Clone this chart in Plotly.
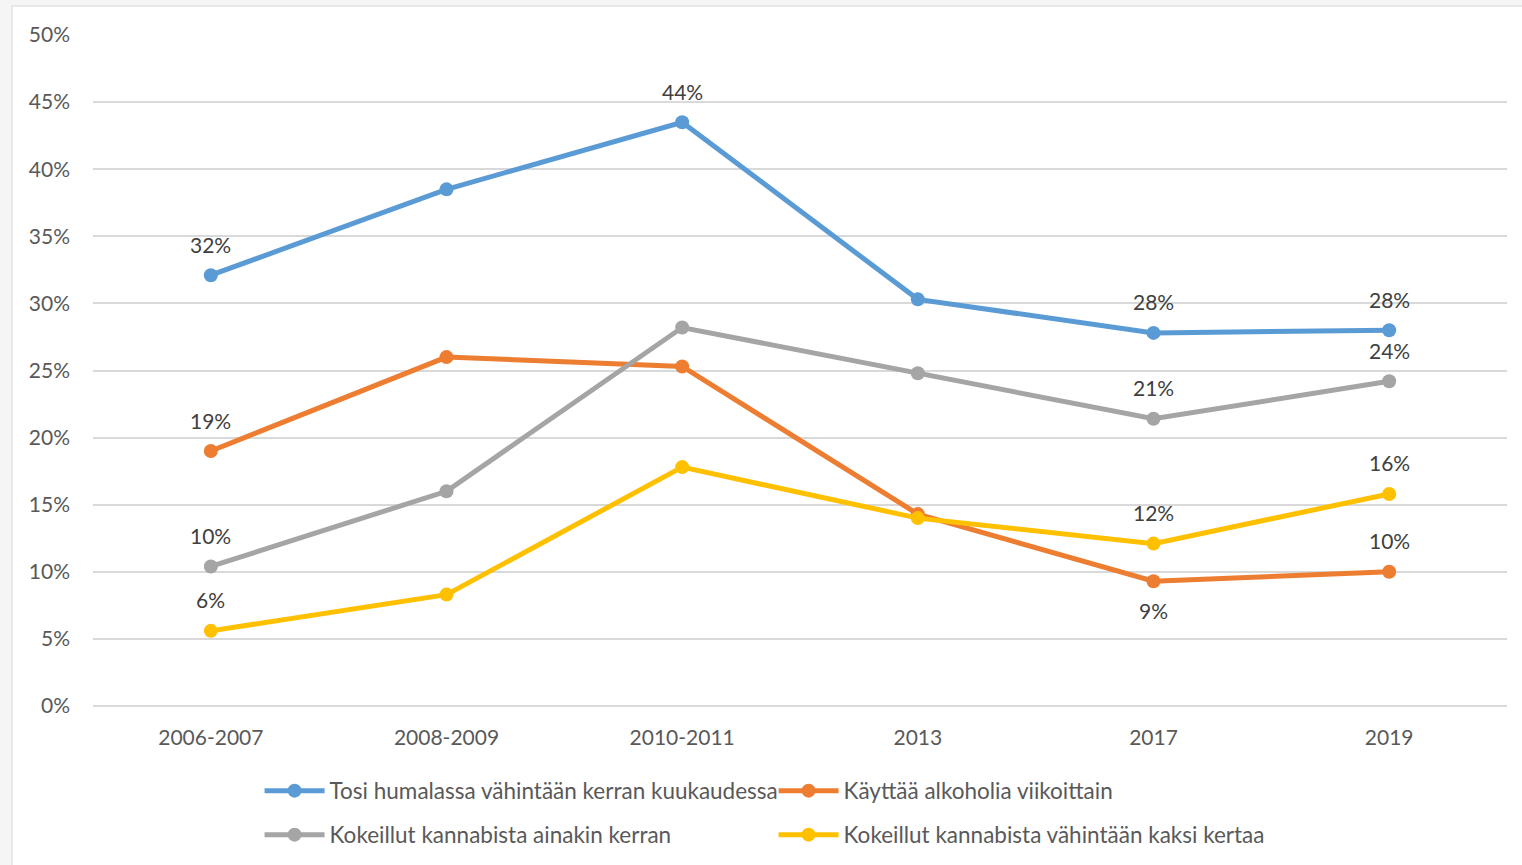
import plotly.graph_objects as go

# Survey periods
periods = ['2006-2007', '2008-2009', '2010-2011', '2013', '2017', '2019']

# Series values (% of respondents)
humalassa = [32.1, 38.5, 43.5, 30.3, 27.8, 28.0]
alkoholi_viikoittain = [19.0, 26.0, 25.3, 14.3, 9.3, 10.0]
kannabis_kerran = [10.4, 16.0, 28.2, 24.8, 21.4, 24.2]
kannabis_kaksi = [5.6, 8.3, 17.8, 14.0, 12.1, 15.8]

# Data labels shown on the chart ('' = no label)
humalassa_labels = ['32%', '', '44%', '', '28%', '28%']
alkoholi_labels = ['19%', '', '', '', '9%', '10%']
kannabis_kerran_labels = ['10%', '', '', '', '21%', '24%']
kannabis_kaksi_labels = ['6%', '', '', '', '12%', '16%']

FONT = 'Lato'
TEXT_COLOR = '#595959'

# name, values, labels, colour, legend, label below point?
series = [
    ('Tosi humalassa vähintään kerran kuukaudessa', humalassa, humalassa_labels, '#5B9BD5', 'legend',
     [False] * 6),
    ('Käyttää alkoholia viikoittain', alkoholi_viikoittain, alkoholi_labels, '#ED7D31', 'legend',
     [False, False, False, False, True, False]),
    ('Kokeillut kannabista ainakin kerran', kannabis_kerran, kannabis_kerran_labels, '#A5A5A5', 'legend2',
     [False] * 6),
    ('Kokeillut kannabista vähintään kaksi kertaa', kannabis_kaksi, kannabis_kaksi_labels, '#FFC000', 'legend2',
     [False] * 6),
]

fig = go.Figure()

for name, values, labels, color, leg, below in series:
    fig.add_trace(go.Scatter(
        x=periods,
        y=values,
        name=name,
        mode='lines+markers',
        line=dict(color=color, width=5),
        marker=dict(color=color, size=14),
        legend=leg,
        cliponaxis=False,
    ))
    # data labels (x as category index, so '2013' etc. aren't read as numbers)
    for i, (v, lab, b) in enumerate(zip(values, labels, below)):
        if lab:
            fig.add_annotation(
                x=i, y=v, text=lab, showarrow=False,
                yshift=-29 if b else 31,
                font=dict(family=FONT, size=21, color='#404040'),
            )

# Light grey frame around the white chart area
fig.add_shape(
    type='rect', xref='paper', yref='paper', layer='below',
    x0=-81 / 1414, x1=15 / 1414 + 1.01, y0=-170 / 671, y1=1 + 29 / 671,
    fillcolor='white', line=dict(color='#e3e3e3', width=1.5),
)

legend_common = dict(
    orientation='h',
    xanchor='left',
    yanchor='middle',
    x=0.1178,
    entrywidth=439,
    bgcolor='rgba(0,0,0,0)',
    font=dict(family=FONT, size=22.5, color=TEXT_COLOR),
    itemwidth=60,
)

fig.update_layout(
    width=1522,
    height=865,
    margin=dict(l=93, r=15, t=35, b=159, autoexpand=False),
    paper_bgcolor='#f5f5f5',
    plot_bgcolor='white',
    font=dict(family=FONT, size=21, color=TEXT_COLOR),
    xaxis=dict(
        type='category',
        range=[-0.5, 5.5],
        showgrid=False,
        showline=False,
        ticks='',
        ticklen=0,
        ticklabelstandoff=17,
        tickfont=dict(family=FONT, size=21, color=TEXT_COLOR),
    ),
    yaxis=dict(
        range=[0, 50],
        dtick=5,
        ticksuffix='%',
        showgrid=True,
        gridcolor='#d9d9d9',
        gridwidth=1.5,
        zeroline=True,
        zerolinecolor='#d9d9d9',
        zerolinewidth=1.5,
        showline=False,
        ticklabelstandoff=22,
        tickfont=dict(family=FONT, size=21, color=TEXT_COLOR),
    ),
    legend=dict(legend_common, y=-85 / 671),
    legend2=dict(legend_common, y=-129 / 671),
)

fig.write_html("out.html", config={'displayModeBar': False},
               post_script="document.body.style.margin='0';")
